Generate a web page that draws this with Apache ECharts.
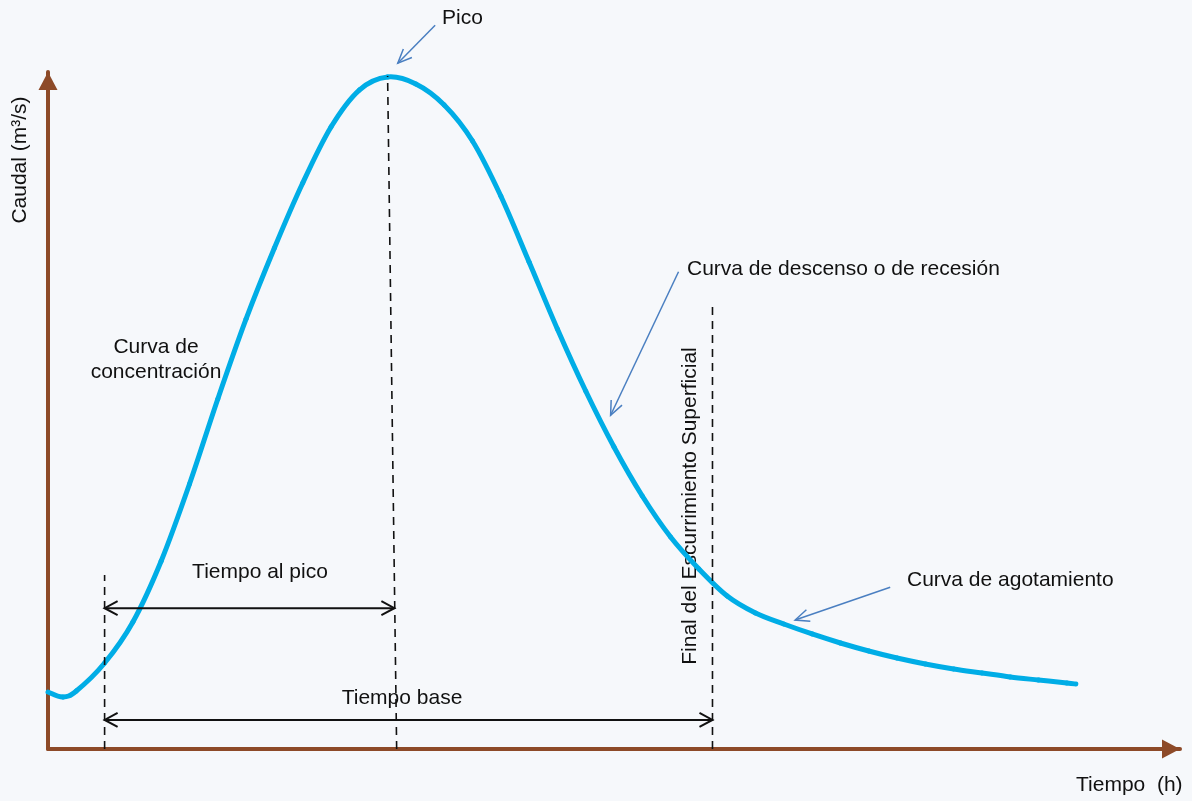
<!DOCTYPE html>
<html>
<head>
<meta charset="utf-8">
<script src="https://cdn.jsdelivr.net/npm/echarts@6/dist/echarts.min.js"></script>
<style>
  html, body { margin: 0; padding: 0; background: #f6f8fb; }
  #main { width: 1192px; height: 801px; }
</style>
</head>
<body>
<div id="main"></div>
<script>
// hidrograma: tiempo (h) vs caudal (m3/s), unidades relativas 0..100
const tiempo = [0, 1.3, 2.5, 5, 7.5, 10, 12.5, 15, 17.5, 20, 22.5, 25, 27.5, 30,
  32.5, 35, 37.5, 40, 42.5, 45, 47.5, 50, 52.5, 55, 57.5, 60, 62.5, 65, 67.5,
  70, 72.5, 75, 77.5, 80, 82.5, 85, 87.5, 90, 90.8];
const caudal = [8.42, 7.68, 8.57, 12.70, 18.76, 27.77, 39.14, 51.70, 63.52, 74.00, 83.60, 91.88, 97.34, 99.26,
  98.23, 95.13, 89.81, 81.68, 71.93, 62.04, 52.88, 44.61, 37.37, 31.31, 26.59, 22.60, 20.09, 18.46, 16.99,
  15.66, 14.48, 13.44, 12.56, 11.82, 11.23, 10.64, 10.19, 9.75, 9.60];

// lineas verticales punteadas [x abajo, x arriba, yTop]
const guias = [[5.0, 5.0, 25.7], [30.8, 30.0, 99.4], [58.7, 58.7, 65.6]];

// flechas de cota [x1, x2, y]
const cotas = [[5.0, 30.6, 20.8], [5.0, 58.7, 4.3]];

// flechas de anotacion [x1, y1, x2, y2] (la punta en x2,y2)
const notas = [[34.2, 106.9, 30.9, 101.3], [55.7, 70.5, 49.7, 49.3], [74.4, 23.9, 66.0, 19.05]];

const myChart = echarts.init(document.getElementById('main'));

const brown = '#8d4a28';
const blue = '#00ade6';
const arrowBlue = '#4a7fc1';
const font = '21px "Liberation Sans", Arial, sans-serif';

function chevron(tip, from, len, wid) {
  let dx = tip[0] - from[0], dy = tip[1] - from[1];
  let d = Math.sqrt(dx * dx + dy * dy);
  dx /= d; dy /= d;
  let nx = -dy, ny = dx;
  return [
    [tip[0] - dx * len + nx * wid, tip[1] - dy * len + ny * wid],
    tip,
    [tip[0] - dx * len - nx * wid, tip[1] - dy * len - ny * wid]
  ];
}

// curva suave (catmull-rom) tramo a tramo
function renderCurva(params, api) {
  let i = params.dataIndex;
  let n = tiempo.length;
  if (i >= n - 1) return null;
  let pt = k => api.coord([tiempo[Math.max(0, Math.min(n - 1, k))], caudal[Math.max(0, Math.min(n - 1, k))]]);
  let p0 = pt(i - 1), p1 = pt(i), p2 = pt(i + 1), p3 = pt(i + 2);
  return {
    type: 'bezierCurve',
    shape: {
      x1: p1[0], y1: p1[1], x2: p2[0], y2: p2[1],
      cpx1: p1[0] + (p2[0] - p0[0]) / 6, cpy1: p1[1] + (p2[1] - p0[1]) / 6,
      cpx2: p2[0] - (p3[0] - p1[0]) / 6, cpy2: p2[1] - (p3[1] - p1[1]) / 6
    },
    style: { stroke: blue, lineWidth: 5, fill: null, lineCap: 'round' }
  };
}

function renderItem(params, api) {
  let kind = api.value(0);
  let children = [];
  if (kind === 0) {
    // guia punteada
    let p0 = api.coord([api.value(1), 0]);
    let p1 = api.coord([api.value(2), api.value(3)]);
    children.push({ type: 'line', shape: { x1: p0[0], y1: p0[1], x2: p1[0], y2: p1[1] },
      style: { stroke: '#111', lineWidth: 1.6, lineDash: [8, 6] } });
  } else if (kind === 1) {
    let a = api.coord([api.value(1), api.value(3)]);
    let b = api.coord([api.value(2), api.value(3)]);
    children.push({ type: 'line', shape: { x1: a[0], y1: a[1], x2: b[0], y2: b[1] },
      style: { stroke: '#111', lineWidth: 2 } });
    children.push({ type: 'polyline', shape: { points: chevron(a, b, 13, 7) },
      style: { stroke: '#111', lineWidth: 2, fill: null } });
    children.push({ type: 'polyline', shape: { points: chevron(b, a, 13, 7) },
      style: { stroke: '#111', lineWidth: 2, fill: null } });
  } else {
    let a = api.coord([api.value(1), api.value(2)]);
    let b = api.coord([api.value(3), api.value(4)]);
    children.push({ type: 'line', shape: { x1: a[0], y1: a[1], x2: b[0], y2: b[1] },
      style: { stroke: arrowBlue, lineWidth: 1.5 } });
    children.push({ type: 'polyline', shape: { points: chevron(b, a, 14, 6) },
      style: { stroke: arrowBlue, lineWidth: 1.5, fill: null } });
  }
  return { type: 'group', children: children };
}

let marcas = [];
guias.forEach(g => marcas.push([0, g[0], g[1], g[2], 0]));
cotas.forEach(c => marcas.push([1, c[0], c[1], c[2], 0]));
notas.forEach(n => marcas.push([2, n[0], n[1], n[2], n[3]]));

function txt(text, x, y, align, rot) {
  return {
    type: 'text', x: x, y: y, rotation: rot || 0,
    style: { text: text, font: font, fill: '#111', textAlign: align || 'left', textVerticalAlign: 'middle' }
  };
}

option = {
  backgroundColor: '#f6f8fb',
  animation: false,
  grid: { left: 48, right: 12, top: 72, bottom: 52 },
  xAxis: {
    type: 'value', min: 0, max: 100,
    axisLine: { show: true, symbol: ['none', 'triangle'], symbolSize: [19, 18], symbolOffset: [0, -9],
      lineStyle: { color: brown, width: 4 } },
    axisTick: { show: false }, axisLabel: { show: false }, splitLine: { show: false }
  },
  yAxis: {
    type: 'value', min: 0, max: 100,
    axisLine: { show: true, symbol: ['none', 'triangle'], symbolSize: [19, 18], symbolOffset: [0, -9],
      lineStyle: { color: brown, width: 4 } },
    axisTick: { show: false }, axisLabel: { show: false }, splitLine: { show: false }
  },
  series: [
    {
      type: 'custom', renderItem: renderCurva, clip: false, z: 3,
      data: tiempo.map((t, i) => [t, caudal[i]])
    },
    {
      type: 'custom', renderItem: renderItem, clip: false, z: 4,
      data: marcas
    }
  ],
  graphic: [
    txt('Pico', 442, 18),
    txt('Curva de', 156, 347, 'center'),
    txt('concentración', 156, 372, 'center'),
    txt('Tiempo al pico', 260, 572, 'center'),
    txt('Tiempo base', 402, 698, 'center'),
    txt('Curva de descenso o de recesión', 687, 269),
    txt('Curva de agotamiento', 907, 580),
    txt('Tiempo  (h)', 1076, 785),
    txt('Final del Escurrimiento Superficial', 690, 506, 'center', Math.PI / 2),
    txt('Caudal (m³/s)', 20, 160, 'center', Math.PI / 2)
  ]
};

myChart.setOption(option);
</script>
</body>
</html>
